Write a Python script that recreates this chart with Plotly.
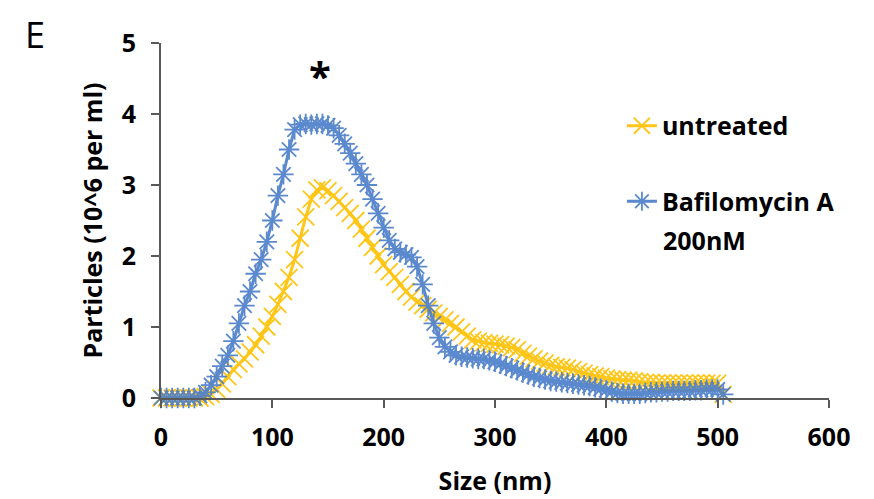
import plotly.graph_objects as go

size_nm = list(range(0, 510, 5))

untreated = [
    0.0, 0.0, 0.0, 0.0, 0.0, 0.0, 0.0, 0.0,          # 0-35
    0.02, 0.05, 0.12, 0.20, 0.30, 0.40, 0.48, 0.55,  # 40-75
    0.65, 0.75, 0.87, 1.00, 1.15, 1.32, 1.50, 1.70,  # 80-115
    1.95, 2.25, 2.55, 2.80, 2.93, 2.96, 2.92, 2.85,  # 120-155
    2.77, 2.68, 2.60, 2.50, 2.38, 2.25, 2.12, 2.00,  # 160-195
    1.88, 1.78, 1.70, 1.60, 1.50, 1.42, 1.35, 1.30,  # 200-235
    1.25, 1.20, 1.15, 1.10, 1.05, 1.00, 0.93, 0.87,  # 240-275
    0.82, 0.80, 0.78, 0.77, 0.76, 0.75, 0.73, 0.71,  # 280-315
    0.68, 0.63, 0.59, 0.55, 0.52, 0.49, 0.46, 0.44,  # 320-355
    0.43, 0.42, 0.40, 0.37, 0.35, 0.33, 0.31, 0.30,  # 360-395
    0.28, 0.27, 0.26, 0.25, 0.25, 0.24, 0.23, 0.22,  # 400-435
    0.22, 0.21, 0.21, 0.21, 0.21, 0.21, 0.21, 0.21,  # 440-475
    0.21, 0.21, 0.21, 0.21, 0.21, 0.05,              # 480-505
]

bafilomycin = [
    0.0, 0.0, 0.0, 0.0, 0.0, 0.0, 0.0, 0.03,          # 0-35
    0.08, 0.18, 0.30, 0.45, 0.60, 0.80, 1.05, 1.30,  # 40-75
    1.50, 1.75, 1.95, 2.20, 2.50, 2.85, 3.15, 3.50,  # 80-115
    3.78, 3.85, 3.86, 3.85, 3.86, 3.86, 3.84, 3.80,  # 120-155
    3.70, 3.58, 3.45, 3.30, 3.15, 3.00, 2.80, 2.60,  # 160-195
    2.40, 2.22, 2.10, 2.05, 2.02, 1.98, 1.85, 1.60,  # 200-235
    1.30, 1.05, 0.85, 0.72, 0.65, 0.60, 0.58, 0.57,  # 240-275
    0.56, 0.55, 0.55, 0.53, 0.51, 0.48, 0.45, 0.42,  # 280-315
    0.39, 0.36, 0.33, 0.30, 0.28, 0.26, 0.24, 0.23,  # 320-355
    0.22, 0.21, 0.20, 0.19, 0.18, 0.17, 0.15, 0.13,  # 360-395
    0.11, 0.09, 0.07, 0.06, 0.06, 0.06, 0.06, 0.07,  # 400-435
    0.08, 0.08, 0.09, 0.09, 0.10, 0.10, 0.10, 0.10,  # 440-475
    0.11, 0.11, 0.12, 0.12, 0.12, 0.05,              # 480-505
]

x_ticks = [0, 100, 200, 300, 400, 500, 600]
y_ticks = [0, 1, 2, 3, 4, 5]

GOLD = "#FFC000"
BLUE = "#4A7DC9"
AXIS = "#595959"
FONT = "Open Sans"
FS = 25

bold = dict(family=FONT, size=FS, color="black", weight="bold")

fig = go.Figure()
fig.add_trace(go.Scatter(
    x=size_nm, y=untreated, name="untreated", mode="lines+markers",
    line=dict(color=GOLD, width=3),
    marker=dict(symbol="x-thin", size=17, line=dict(color=GOLD, width=1.8)),
    opacity=0.9,
    cliponaxis=False, legendgroup="a",
))
fig.add_trace(go.Scatter(
    x=size_nm, y=bafilomycin, name="Bafilomycin A", mode="lines+markers",
    line=dict(color=BLUE, width=3),
    marker=dict(symbol="asterisk-open", size=17, line=dict(color=BLUE, width=1.8)),
    opacity=0.9,
    cliponaxis=False, legendgroup="b",
))

# page has an 8px body margin, so the figure is 8px smaller than the window
fig.update_layout(
    width=866, height=491,
    margin=dict(l=153, r=45, t=35, b=101, autoexpand=False),
    paper_bgcolor="white", plot_bgcolor="white",
    font=dict(family=FONT, color="black"),
    legend=dict(
        x=0.69, y=0.831, xanchor="left", yanchor="top",
        font=bold, tracegroupgap=40, bgcolor="rgba(0,0,0,0)", traceorder="grouped",
    ),
    xaxis=dict(
        range=[0, 600], tickvals=x_ticks, ticktext=[str(v) for v in x_ticks],
        showline=True, linecolor=AXIS, linewidth=2,
        ticks="outside", ticklen=8, tickwidth=2, tickcolor=AXIS,
        showgrid=False, zeroline=False, automargin=False,
        tickfont=bold, ticklabelstandoff=8,
        title=dict(text="Size (nm)", standoff=20, font=bold),
    ),
    yaxis=dict(
        range=[0, 5], tickvals=y_ticks, ticktext=[str(v) for v in y_ticks],
        showline=True, linecolor=AXIS, linewidth=2,
        ticks="outside", ticklen=8, tickwidth=2, tickcolor=AXIS,
        showgrid=False, zeroline=False, automargin=False,
        tickfont=bold, ticklabelstandoff=10,
        title=dict(text="Particles (10^6 per ml)", standoff=12, font=bold),
    ),
    annotations=[
        dict(x=143, y=4.545, xref="x", yref="y", text="<b>*</b>", showarrow=False,
             font=dict(family=FONT, size=40, color="black")),
        dict(x=-0.207, y=1.0986, xref="paper", yref="paper", xanchor="left", yanchor="top",
             text="E", showarrow=False,
             font=dict(family=FONT, size=36, color="black")),
        dict(x=0.748, y=0.445, xref="paper", yref="paper", xanchor="left", yanchor="middle",
             text="200nM", showarrow=False, font=bold),
    ],
)

fig.write_html("out.html")
